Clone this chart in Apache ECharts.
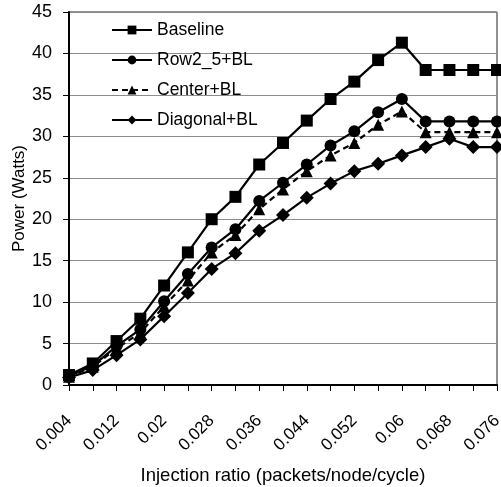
<!DOCTYPE html>
<html>
<head>
<meta charset="utf-8">
<script src="https://cdn.jsdelivr.net/npm/echarts@6/dist/echarts.min.js"></script>
<style>
html,body{margin:0;padding:0;background:#fff;}
#c{width:501px;height:487px;}
</style>
</head>
<body>
<div id="c"></div>
<script>
var categories = ['0.004','0.008','0.012','0.016','0.02','0.024','0.028','0.032','0.036','0.04','0.044','0.048','0.052','0.056','0.06','0.064','0.068','0.072','0.076'];
var baseline = [1.2, 2.6, 5.3, 8.0, 12.0, 16.0, 20.0, 22.7, 26.6, 29.2, 31.9, 34.5, 36.6, 39.2, 41.3, 38.0, 38.0, 38.0, 38.0];
var row2_5 = [1.1, 2.3, 4.7, 6.7, 10.1, 13.4, 16.6, 18.8, 22.2, 24.4, 26.6, 28.9, 30.6, 32.9, 34.5, 31.8, 31.8, 31.8, 31.8];
var center = [1.0, 2.2, 4.4, 6.3, 9.5, 12.6, 16.0, 18.1, 21.2, 23.6, 25.8, 27.7, 29.2, 31.4, 33.0, 30.5, 30.5, 30.5, 30.5];
var diagonal = [0.9, 1.8, 3.6, 5.5, 8.3, 11.1, 14.0, 15.9, 18.6, 20.5, 22.6, 24.3, 25.8, 26.7, 27.7, 28.7, 29.7, 28.7, 28.7];
var seriesNames = ['Baseline', 'Row2_5+BL', 'Center+BL', 'Diagonal+BL'];

var FONT = 'Liberation Sans';
function mk(name, data, symbol, size, dash) {
  return {
    name: name, type: 'line', data: data,
    symbol: symbol, symbolSize: size, showSymbol: true,
    itemStyle: {color: '#000'},
    lineStyle: {color: '#000', width: 2.2, type: dash ? [6, 4] : 'solid'},
    emphasis: {disabled: true},
    animation: false
  };
}
var chart = echarts.init(document.getElementById('c'), null, {renderer: 'canvas'});
chart.setOption({
  animation: false,
  backgroundColor: '#fff',
  textStyle: {fontFamily: FONT},
  grid: {left: 69, right: 4, top: 12, bottom: 102, show: true, borderColor: '#222', borderWidth: 1, containLabel: false, outerBoundsMode: 'none'},
  legend: {
    data: seriesNames, orient: 'vertical', left: 111, top: 21, padding: 0,
    itemWidth: 40, itemHeight: 11, itemGap: 12,
    textStyle: {fontFamily: FONT, fontSize: 17.5, color: '#000'}
  },
  xAxis: {
    type: 'category', data: categories, boundaryGap: false,
    axisLine: {lineStyle: {color: '#000', width: 2}},
    axisTick: {show: true, inside: false, length: 6, interval: 0, lineStyle: {color: '#000', width: 1}},
    axisLabel: {interval: 1, rotate: 45, fontSize: 17, color: '#000', margin: 33, fontFamily: FONT},
    splitLine: {show: false},
    name: 'Injection ratio (packets/node/cycle)', nameLocation: 'middle', nameGap: 81, nameMoveOverlap: false,
    nameTextStyle: {fontSize: 18.5, color: '#000', fontFamily: FONT}
  },
  yAxis: {
    type: 'value', min: 0, max: 45, interval: 5,
    axisLine: {show: true, lineStyle: {color: '#000', width: 2}},
    axisTick: {show: true, inside: false, length: 6, lineStyle: {color: '#000', width: 1}},
    axisLabel: {fontSize: 18, color: '#000', margin: 17, fontFamily: FONT},
    splitLine: {show: true, lineStyle: {color: '#8c8c8c', width: 1}},
    name: 'Power (Watts)', nameLocation: 'middle', nameGap: 41, nameMoveOverlap: false,
    nameTextStyle: {fontSize: 17, color: '#000', fontFamily: FONT}
  },
  series: [
    mk(seriesNames[0], baseline, 'rect', 12, false),
    mk(seriesNames[1], row2_5, 'circle', 12, false),
    mk(seriesNames[2], center, 'triangle', 12, true),
    mk(seriesNames[3], diagonal, 'diamond', 14, false)
  ]
});
</script>
</body>
</html>
